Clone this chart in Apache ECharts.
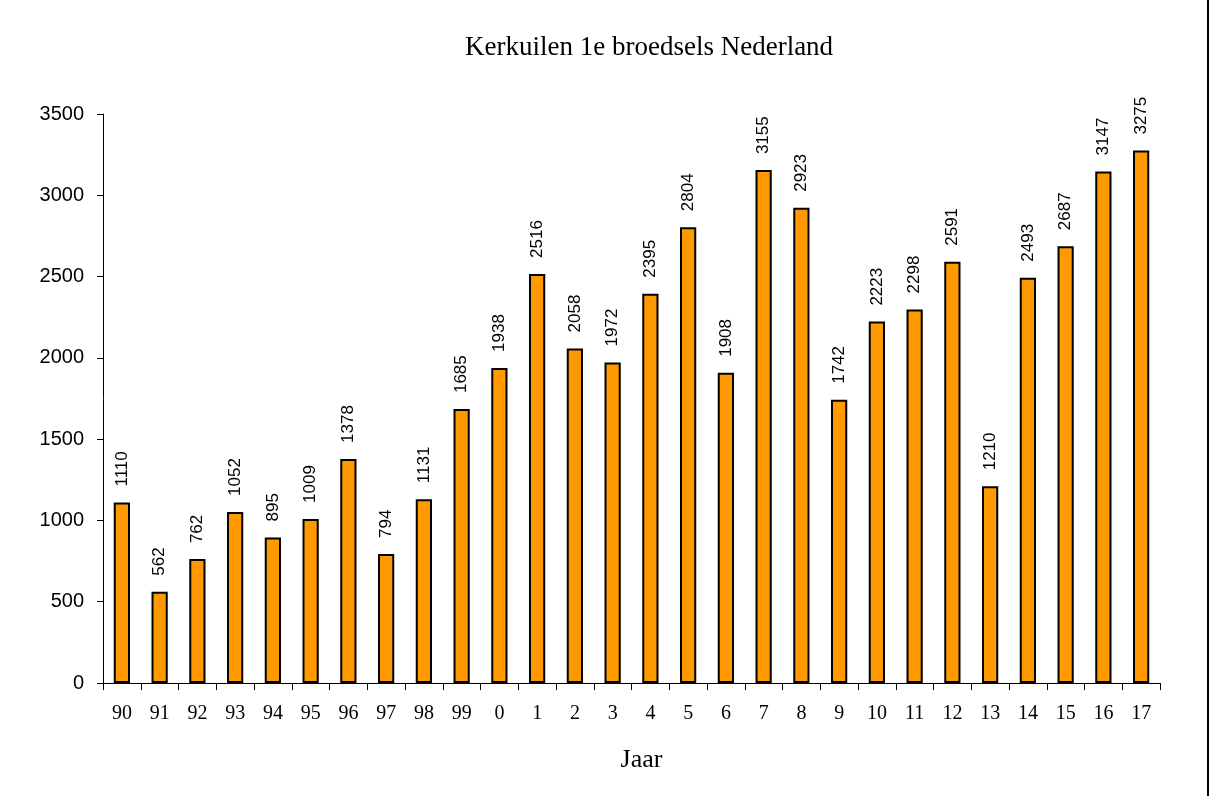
<!DOCTYPE html>
<html>
<head>
    <meta charset="utf-8">
    <title>Kerkuilen 1e broedsels Nederland</title>
    <script src="https://cdn.jsdelivr.net/npm/echarts@6/dist/echarts.min.js"></script>
    <style>
        html, body { margin: 0; padding: 0; background: #fff; }
        #chart { width: 1211px; height: 796px; }
    </style>
</head>
<body>
<div id="chart"></div>
<script>
    // jaren (x-as)
    var jaren = ['90','91','92','93','94','95','96','97','98','99','0','1','2','3','4','5','6','7','8','9','10','11','12','13','14','15','16','17'];
    // aantal 1e broedsels
    var broedsels = [1110,562,762,1052,895,1009,1378,794,1131,1685,1938,2516,2058,1972,2395,2804,1908,3155,2923,1742,2223,2298,2591,1210,2493,2687,3147,3275];
    var yTicks = [0, 500, 1000, 1500, 2000, 2500, 3000, 3500];

    var serif = '"Liberation Serif", "Times New Roman", serif';
    var sans = '"Liberation Sans", Arial, sans-serif';
    var chart = echarts.init(document.getElementById('chart'));

    var option = {
        animation: false,
        backgroundColor: '#ffffff',
        title: {
            text: 'Kerkuilen 1e broedsels Nederland',
            left: 460,
            top: 29,
            textStyle: { fontFamily: serif, fontSize: 27, fontWeight: 'normal', color: '#000' }
        },
        grid: { left: 103, right: 51, top: 114, bottom: 113 },
        xAxis: {
            type: 'category',
            data: jaren,
            name: 'Jaar',
            nameLocation: 'middle',
            nameGap: 64,
            nameTextStyle: { fontFamily: serif, fontSize: 26, color: '#000', padding: [0, 0, 0, 20] },
            axisLine: { lineStyle: { color: '#000', width: 1 } },
            axisTick: { show: true, length: 7, alignWithLabel: false, lineStyle: { color: '#000' } },
            axisLabel: { fontFamily: serif, fontSize: 20, color: '#000', margin: 21, interval: 0 }
        },
        yAxis: {
            type: 'value',
            min: yTicks[0],
            max: yTicks[yTicks.length - 1],
            interval: 500,
            axisLine: { show: true, lineStyle: { color: '#000', width: 1 } },
            axisTick: { show: true, length: 6, lineStyle: { color: '#000' } },
            splitLine: { show: false },
            axisLabel: {
                fontFamily: sans, fontSize: 20, color: '#000', margin: 19,
                formatter: function (v) { return String(v); }
            }
        },
        series: [{
            type: 'bar',
            data: broedsels,
            barWidth: '43%',
            itemStyle: { color: '#ff9900', borderColor: '#000', borderWidth: 2 },
            label: {
                show: true,
                position: 'top',
                rotate: 90,
                align: 'left',
                verticalAlign: 'middle',
                distance: 16,
                fontFamily: sans,
                fontSize: 17,
                color: '#000'
            }
        }],
        graphic: [{
            type: 'line',
            shape: { x1: 1208, y1: 0, x2: 1208, y2: 796 },
            style: { stroke: '#000', lineWidth: 2 }
        }]
    };
    chart.setOption(option);
</script>
</body>
</html>
